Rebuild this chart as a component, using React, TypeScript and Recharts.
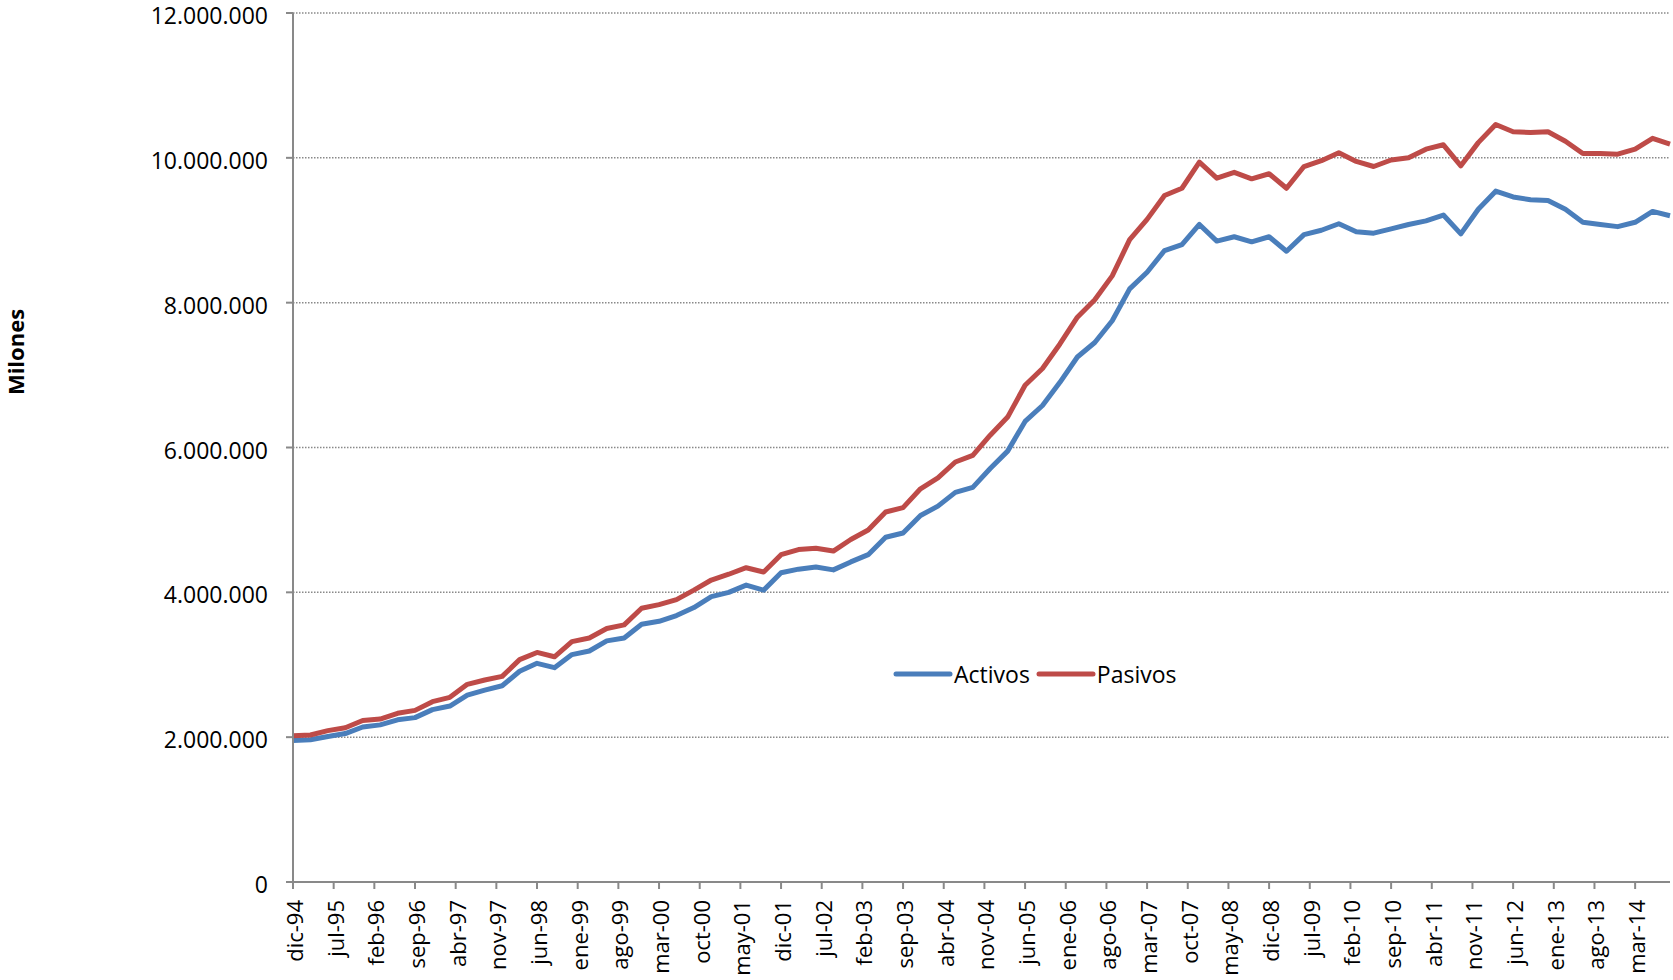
import React from 'react';
import {
  LineChart,
  Line,
  XAxis,
  YAxis,
  CartesianGrid,
  Legend,
} from 'recharts';

// trimestral, dic-94 .. sep-14
const activos = [
  1954000, 1964000, 2010000, 2050000, 2140000, 2170000, 2240000, 2270000,
  2380000, 2430000, 2580000, 2650000, 2710000, 2910000, 3020000, 2960000,
  3140000, 3190000, 3330000, 3370000, 3560000, 3600000, 3680000, 3790000,
  3940000, 4000000, 4100000, 4030000, 4270000, 4320000, 4350000, 4310000,
  4420000, 4520000, 4760000, 4820000, 5060000, 5190000, 5380000, 5450000,
  5710000, 5950000, 6360000, 6580000, 6900000, 7250000, 7450000, 7750000,
  8190000, 8420000, 8720000, 8800000, 9080000, 8850000, 8910000, 8840000,
  8910000, 8710000, 8940000, 9000000, 9090000, 8980000, 8960000, 9020000,
  9080000, 9130000, 9210000, 8950000, 9290000, 9540000, 9460000, 9420000,
  9410000, 9290000, 9110000, 9080000, 9050000, 9110000, 9260000, 9200000,
];

const pasivos = [
  2020000, 2030000, 2090000, 2130000, 2230000, 2250000, 2330000, 2370000,
  2490000, 2550000, 2730000, 2790000, 2840000, 3070000, 3170000, 3110000,
  3320000, 3370000, 3500000, 3550000, 3780000, 3830000, 3900000, 4030000,
  4170000, 4250000, 4340000, 4280000, 4520000, 4590000, 4610000, 4570000,
  4730000, 4860000, 5110000, 5170000, 5430000, 5580000, 5800000, 5890000,
  6170000, 6420000, 6860000, 7090000, 7430000, 7800000, 8040000, 8370000,
  8870000, 9150000, 9480000, 9580000, 9940000, 9720000, 9800000, 9710000,
  9780000, 9580000, 9880000, 9960000, 10070000, 9950000, 9880000, 9970000,
  10000000, 10120000, 10180000, 9890000, 10210000, 10460000, 10360000, 10350000,
  10360000, 10230000, 10060000, 10060000, 10050000, 10120000, 10270000, 10190000,
];

// etiquetas del eje, una cada 7 meses
const etiquetas = [
  'dic-94', 'jul-95', 'feb-96', 'sep-96', 'abr-97', 'nov-97', 'jun-98',
  'ene-99', 'ago-99', 'mar-00', 'oct-00', 'may-01', 'dic-01', 'jul-02',
  'feb-03', 'sep-03', 'abr-04', 'nov-04', 'jun-05', 'ene-06', 'ago-06',
  'mar-07', 'oct-07', 'may-08', 'dic-08', 'jul-09', 'feb-10', 'sep-10',
  'abr-11', 'nov-11', 'jun-12', 'ene-13', 'ago-13', 'mar-14',
];

const yTicks = [0, 2000000, 4000000, 6000000, 8000000, 10000000, 12000000];

// month offset from dic-94 for each quarterly point
const data = activos.map((v, i) => ({
  mes: i * 3,
  activos: v,
  pasivos: pasivos[i],
}));

const xTicks = etiquetas.map((_, i) => i * 7);

const FONT = '"Open Sans", sans-serif';
const GRAY = '#898989';

const formatMiles = (v: number) =>
  v.toString().replace(/\B(?=(\d{3})+(?!\d))/g, '.');

const XTick = (props: any) => {
  const { x, payload } = props;
  const label = etiquetas[Math.round(payload.value / 7)];
  const y = 900;
  return (
    <text
      x={x + 1}
      y={y}
      transform={`rotate(-90, ${x + 1}, ${y})`}
      textAnchor="end"
      dominantBaseline="central"
      fontFamily={FONT}
      fontSize={22}
      fill="#000"
    >
      {label}
    </text>
  );
};

const YTick = (props: any) => {
  const { x, y, payload } = props;
  return (
    <text
      x={x}
      y={y + 2}
      textAnchor="end"
      dominantBaseline="central"
      fontFamily={FONT}
      fontSize={23}
      fill="#000"
    >
      {formatMiles(payload.value)}
    </text>
  );
};

const renderLegend = (props: any) => {
  const { payload } = props;
  return (
    <div style={{ display: 'flex', alignItems: 'center', fontFamily: FONT, fontSize: 23, color: '#000' }}>
      {payload.map((e: any) => (
        <div key={e.value} style={{ display: 'flex', alignItems: 'center', marginRight: 6 }}>
          <svg width={60} height={10}>
            <line x1={3} y1={5} x2={57} y2={5} stroke={e.color} strokeWidth={5} strokeLinecap="round" />
          </svg>
          <span style={{ marginLeft: 1 }}>{e.value}</span>
        </div>
      ))}
    </div>
  );
};

export default function App() {
  return (
    <div style={{ position: 'absolute', left: 0, top: 0, width: 1673, height: 980, background: '#fff' }}>
      <LineChart
        width={1673}
        height={980}
        data={data}
        margin={{ top: 13, right: 3, bottom: 0, left: 0 }}
      >
        <CartesianGrid
          horizontal={true}
          vertical={false}
          stroke={GRAY}
          strokeDasharray="1.5 1.5"
          strokeWidth={1.5}
        />
        <XAxis
          dataKey="mes"
          type="number"
          domain={[0, 237]}
          ticks={xTicks}
          interval={0}
          height={98}
          tickSize={7}
          tickMargin={11}
          axisLine={{ stroke: GRAY, strokeWidth: 2 }}
          tickLine={{ stroke: GRAY, strokeWidth: 2 }}
          tick={<XTick />}
        />
        <YAxis
          width={293}
          domain={[0, 12000000]}
          ticks={yTicks}
          interval={0}
          tickSize={7}
          tickMargin={18}
          axisLine={{ stroke: GRAY, strokeWidth: 2 }}
          tickLine={{ stroke: GRAY, strokeWidth: 2 }}
          tick={<YTick />}
          label={(p: any) => {
            const vb = p.viewBox;
            const cx = vb.x + 15;
            const cy = vb.y + 339;
            return (
              <text
                x={cx}
                y={cy}
                transform={`rotate(-90, ${cx}, ${cy})`}
                textAnchor="middle"
                dominantBaseline="central"
                fontFamily={FONT}
                fontWeight="bold"
                fontSize={22}
                fill="#000"
              >
                Milones
              </text>
            );
          }}
        />
        <Legend
          layout="horizontal"
          verticalAlign="middle"
          align="center"
          content={renderLegend}
          wrapperStyle={{ left: 893, top: 658, width: 'auto' }}
        />
        <Line
          type="linear"
          dataKey="activos"
          name="Activos"
          stroke="#4A7EBB"
          strokeWidth={5}
          strokeLinejoin="round"
          dot={false}
          activeDot={false}
          isAnimationActive={false}
        />
        <Line
          type="linear"
          dataKey="pasivos"
          name="Pasivos"
          stroke="#BE4B48"
          strokeWidth={5}
          strokeLinejoin="round"
          dot={false}
          activeDot={false}
          isAnimationActive={false}
        />
      </LineChart>
    </div>
  );
}
